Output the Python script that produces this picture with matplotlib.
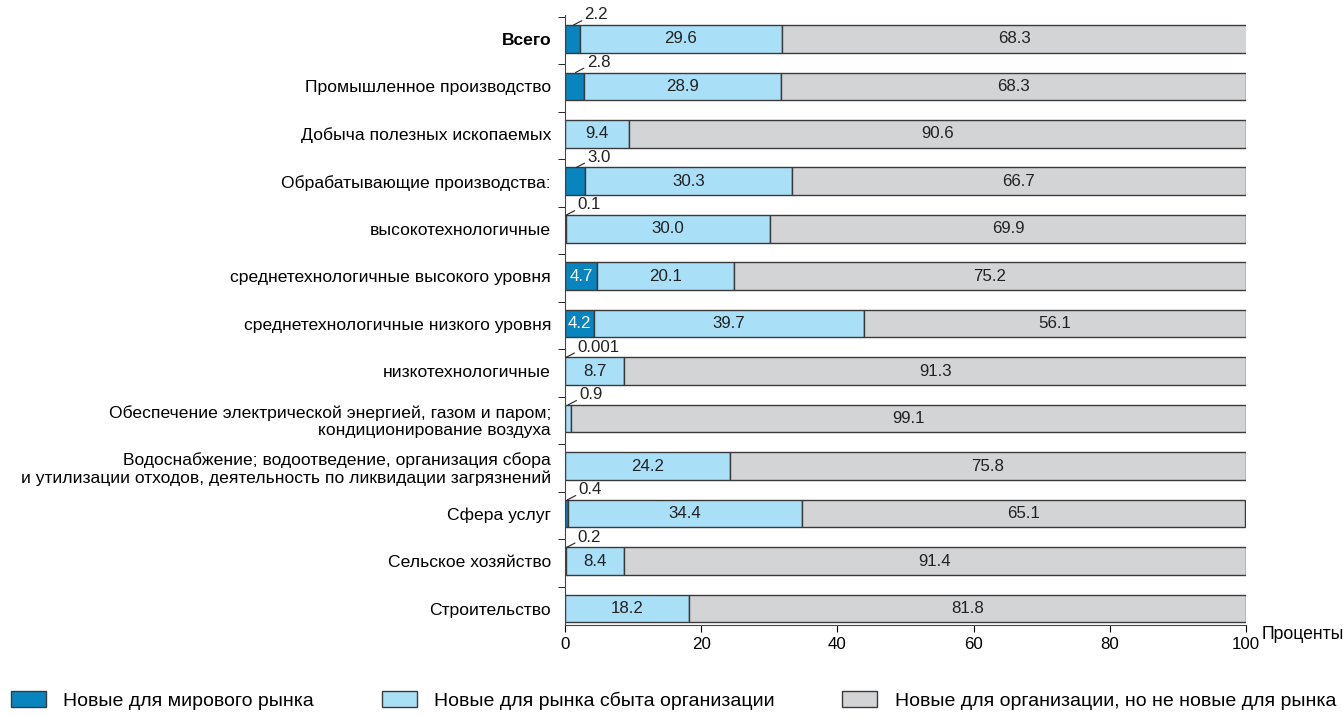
import numpy as np
import matplotlib
matplotlib.use("Agg")
import matplotlib.pyplot as plt
from matplotlib.patches import Patch

plt.rcParams["font.family"] = ["Liberation Sans", "DejaVu Sans"]

categories = [
    "Всего",
    "Промышленное производство",
    "Добыча полезных ископаемых",
    "Обрабатывающие производства:",
    "высокотехнологичные",
    "среднетехнологичные высокого уровня",
    "среднетехнологичные низкого уровня",
    "низкотехнологичные",
    "Обеспечение электрической энергией, газом и паром;\nкондиционирование воздуха",
    "Водоснабжение; водоотведение, организация сбора\nи утилизации отходов, деятельность по ликвидации загрязнений",
    "Сфера услуг",
    "Сельское хозяйство",
    "Строительство",
]
world = [2.2, 2.8, 0, 3.0, 0.1, 4.7, 4.2, 0.001, 0, 0, 0.4, 0.2, 0]
market = [29.6, 28.9, 9.4, 30.3, 30.0, 20.1, 39.7, 8.7, 0.9, 24.2, 34.4, 8.4, 18.2]
org = [68.3, 68.3, 90.6, 66.7, 69.9, 75.2, 56.1, 91.3, 99.1, 75.8, 65.1, 91.4, 81.8]
world_txt = ["2.2", "2.8", "", "3.0", "0.1", "4.7", "4.2", "0.001", "", "", "0.4", "0.2", ""]
series_names = ["Новые для мирового рынка", "Новые для рынка сбыта организации",
                "Новые для организации, но не новые для рынка"]
colors = ["#0884BE", "#AADFF8", "#D3D4D6"]
edge = "#3a3a3a"

fig = plt.figure(figsize=(13.43, 7.17), dpi=100)
ax = fig.add_axes([0.4207, 0.128, 0.5071, 0.851])

y = np.arange(len(categories))
h = 0.58
w = np.array(world)
m = np.array(market)
o = np.array(org)
ax.barh(y, w, h, color=colors[0], edgecolor=edge, linewidth=1)
ax.barh(y, m, h, left=w, color=colors[1], edgecolor=edge, linewidth=1)
ax.barh(y, o, h, left=w + m, color=colors[2], edgecolor=edge, linewidth=1)

fs = 12.6
vfs = 12.2


def leader(txt, xv, yv):
    ax.annotate(txt, xy=(xv, yv), xytext=(8, 2), textcoords="offset points",
                ha="left", va="bottom", fontsize=vfs, color="#222",
                arrowprops=dict(arrowstyle="-", lw=0.8, color="#222",
                                shrinkA=0, shrinkB=0, relpos=(0, 0.2)))


for i in range(len(categories)):
    if world_txt[i]:
        if w[i] >= 4:
            ax.text(w[i] / 2, i, world_txt[i], ha="center", va="center",
                    color="white", fontsize=vfs)
        else:
            leader(world_txt[i], w[i] / 2 + 0.15, i - h / 2)
    if m[i] >= 2:
        ax.text(w[i] + m[i] / 2, i, f"{m[i]:.1f}", ha="center", va="center",
                fontsize=vfs, color="#222")
    else:
        leader(f"{m[i]:.1f}", w[i] + m[i] / 2, i - h / 2)
    ax.text(w[i] + m[i] + o[i] / 2, i, f"{o[i]:.1f}", ha="center", va="center",
            fontsize=vfs, color="#222")

ax.set_xlim(0, 100)
ax.set_ylim(12.35, -0.5)
ax.set_yticks(y)
ax.set_yticklabels(categories, fontsize=fs)
ax.get_yticklabels()[0].set_fontweight("bold")
ax.tick_params(axis="y", length=0, pad=10)
ax.set_yticks(np.arange(len(categories)) - 0.46, minor=True)
ax.tick_params(axis="y", which="minor", length=5, direction="out")
ax.set_xticks([0, 20, 40, 60, 80, 100])
ax.tick_params(axis="x", labelsize=vfs, length=5)
for s in ["top", "right"]:
    ax.spines[s].set_visible(False)
for s in ["left", "bottom"]:
    ax.spines[s].set_color("#444")
for lab in ax.get_yticklabels():
    lab.set_multialignment("right")

fig.text(0.9395, 0.115, "Проценты", ha="left", va="center", fontsize=vfs + 0.5)

handles = [Patch(facecolor=c, edgecolor=edge, linewidth=1) for c in colors]
fig.legend(handles, series_names, loc="lower left", ncol=3, mode="expand",
           bbox_to_anchor=(0.008, 0.01, 0.987, 0.04), frameon=False,
           borderaxespad=0, borderpad=0,
           fontsize=14, handlelength=1.8, handleheight=0.9,
           handletextpad=0.9)

fig.savefig("out.png", dpi=100)
